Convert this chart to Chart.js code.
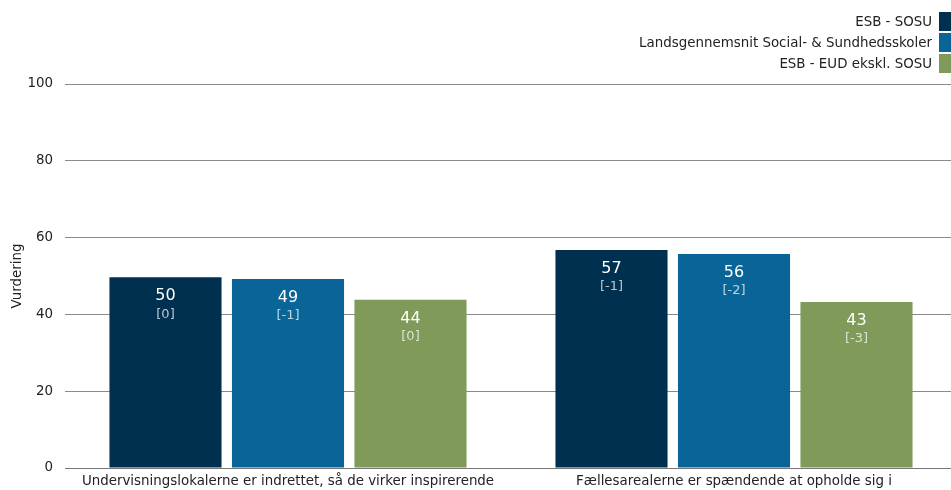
<!DOCTYPE html>
<html>
<head>
<meta charset="utf-8">
<script src="https://cdn.jsdelivr.net/npm/chart.js@4.4.1/dist/chart.umd.min.js"></script>
<style>
  html, body { margin: 0; padding: 0; background: #fff; overflow: hidden; }
  #wrap { width: 957px; height: 490px; }
</style>
</head>
<body>
<div id="wrap"><canvas id="chart"></canvas></div>
<script>
// data
const categories = [
    'Undervisningslokalerne er indrettet, så de virker inspirerende',
    'Fællesarealerne er spændende at opholde sig i'
];
const seriesNames = ['ESB - SOSU', 'Landsgennemsnit Social- & Sundhedsskoler', 'ESB - EUD ekskl. SOSU'];
const esbSosu = [49.7, 56.8];
const landsgennemsnit = [49.2, 55.7];
const esbEud = [43.8, 43.2];
const changes = [['[0]', '[-1]'], ['[-1]', '[-2]'], ['[0]', '[-3]']];
const yTicks = [0, 20, 40, 60, 80, 100];

const colors = ['#00304f', '#096598', '#7f9a59'];
const font = "'DejaVu Sans', sans-serif";

// legend in the top right corner, text right-aligned before the box
const rightLegend = {
    id: 'rightLegend',
    afterDraw(chart) {
        const ctx = chart.ctx;
        ctx.save();
        ctx.font = '13.4px ' + font;
        ctx.textAlign = 'right';
        ctx.textBaseline = 'middle';
        chart.data.datasets.forEach((ds, i) => {
            const y = 21.5 + i * 21;
            ctx.fillStyle = ds.backgroundColor;
            ctx.fillRect(939, y - 9.5, 12, 19);
            ctx.fillStyle = '#222';
            ctx.fillText(ds.label, 932, y + 1);
        });
        ctx.restore();
    }
};

// value + change labels inside the top of each bar
const barLabels = {
    id: 'barLabels',
    afterDatasetsDraw(chart) {
        const ctx = chart.ctx;
        ctx.save();
        ctx.textAlign = 'center';
        ctx.textBaseline = 'middle';
        chart.data.datasets.forEach((ds, i) => {
            chart.getDatasetMeta(i).data.forEach((bar, j) => {
                ctx.font = '16px ' + font;
                ctx.fillStyle = '#ffffff';
                ctx.fillText(Math.round(ds.data[j]), bar.x, bar.y + 19);
                ctx.font = '13px ' + font;
                ctx.fillStyle = 'rgba(255,255,255,0.72)';
                ctx.fillText(changes[i][j], bar.x, bar.y + 37);
            });
        });
        ctx.restore();
    }
};

const seriesValues = [esbSosu, landsgennemsnit, esbEud];

new Chart(document.getElementById('chart'), {
    type: 'bar',
    data: {
        labels: categories,
        datasets: seriesNames.map((name, i) => ({
            label: name,
            data: seriesValues[i],
            backgroundColor: colors[i],
            categoryPercentage: 0.824,
            barPercentage: 0.915
        }))
    },
    options: {
        responsive: true,
        maintainAspectRatio: false,
        animation: false,
        layout: { padding: { top: 84, right: 0, left: 4, bottom: 0 } },
        plugins: {
            legend: { display: false },
            tooltip: { enabled: false }
        },
        scales: {
            x: {
                afterFit(axis) { axis.height = 22; },
                grid: { display: false, drawTicks: false },
                border: { color: '#777', width: 1 },
                ticks: { color: '#222', font: { family: font, size: 13.4 }, padding: 5, maxRotation: 0 }
            },
            y: {
                min: 0,
                max: 100,
                afterBuildTicks(axis) { axis.ticks = yTicks.map(v => ({ value: v })); },
                afterFit(axis) { axis.width = 61; },
                grid: { color: '#8a8a8a', drawTicks: false },
                border: { display: false },
                ticks: { color: '#222', font: { family: font, size: 13.4 }, padding: 12 },
                title: { display: true, text: 'Vurdering', color: '#222', font: { family: font, size: 13.4 }, padding: { top: 5, bottom: 0 } }
            }
        }
    },
    plugins: [rightLegend, barLabels]
});
</script>
</body>
</html>
